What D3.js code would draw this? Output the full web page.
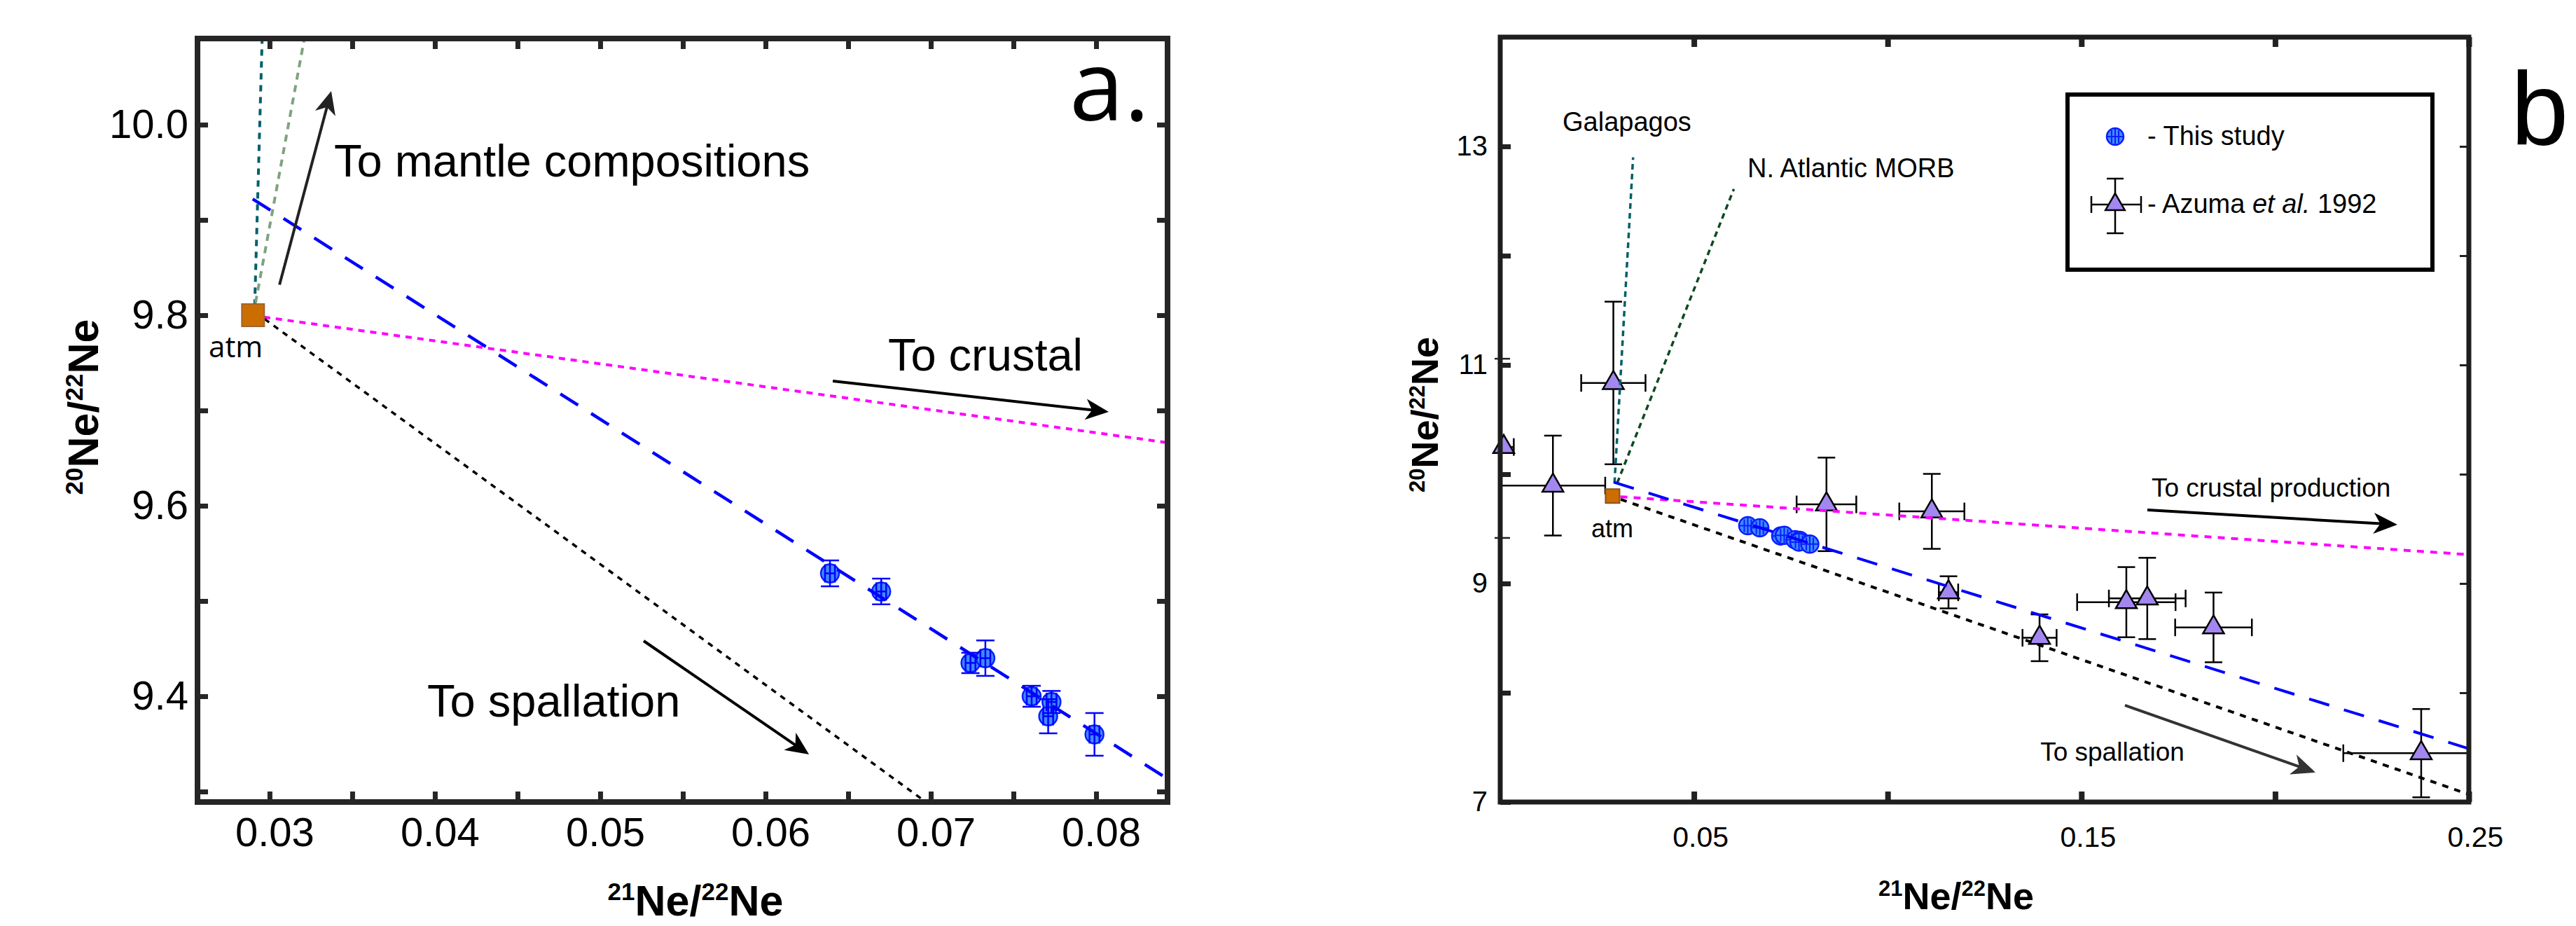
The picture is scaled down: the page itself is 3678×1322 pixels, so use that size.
<!DOCTYPE html>
<html>
<head>
<meta charset="utf-8">
<script src="https://cdn.jsdelivr.net/npm/d3@7/dist/d3.min.js"></script>
<style>
  body { margin: 0; background: #fff; }
  text { font-family: "Liberation Sans", Arial, sans-serif; }
</style>
</head>
<body>
<script>
// this study (panel a and b)
var studyX = [0.0639, 0.0670, 0.0724, 0.0733, 0.0761, 0.0773, 0.0771, 0.0799];
var studyY = [9.529, 9.510, 9.435, 9.440, 9.400, 9.394, 9.379, 9.360];
var studyXErr = [0.0003, 0.0003, 0.0003, 0.0003, 0.0003, 0.0003, 0.0003, 0.0003];
var studyYErr = [0.0136, 0.0135, 0.0107, 0.0186, 0.0110, 0.0116, 0.0179, 0.0224];

// Azuma et al. 1992 (panel b)
var azumaX = [0.0009, 0.0136, 0.0292, 0.0842, 0.1114, 0.1157, 0.1392, 0.1616, 0.1670, 0.1841, 0.2377];
var azumaY = [10.249, 9.896, 10.835, 9.724, 9.660, 8.919, 8.503, 8.829, 8.863, 8.598, 7.447];
var azumaXErr = [0.0026, 0.0135, 0.0083, 0.0077, 0.0084, 0.0025, 0.0044, 0.0127, 0.0099, 0.0099, 0.0201];
var azumaYErr = [0, 0.457, 0.744, 0.428, 0.343, 0.147, 0.214, 0.321, 0.372, 0.319, 0.404];

// atmosphere
var atm = [0.029, 9.80];

// mixing / trend lines, [x1, y1, x2, y2]
var linesA = {
  galapagos: [0.0291, 9.81, 0.02955, 10.09],
  morb: [0.02915, 9.813, 0.0321, 10.09],
  crustal: [0.02966, 9.798, 0.0844, 9.666],
  spallation: [0.0297, 9.796, 0.0697, 9.289],
  fit: [0.02898, 9.922, 0.0844, 9.3125]
};
var linesB = {
  galapagos: [0.0295, 9.92, 0.0343, 12.90],
  morb: [0.0302, 9.92, 0.0603, 12.61],
  crustal: [0.0310, 9.794, 0.25, 9.264],
  spallation: [0.0311, 9.77, 0.25, 7.07],
  fit: [0.0293, 9.927, 0.25, 7.488]
};

// ticks
var aXTicks = [0.03, 0.035, 0.04, 0.045, 0.05, 0.055, 0.06, 0.065, 0.07, 0.075, 0.08];
var aXLabels = [0.03, 0.04, 0.05, 0.06, 0.07, 0.08];
var aYTicks = [9.3, 9.4, 9.5, 9.6, 9.7, 9.8, 9.9, 10.0];
var aYLabels = [9.4, 9.6, 9.8, 10.0];
var bXTicks = [0.05, 0.10, 0.15, 0.20, 0.25];
var bXLabels = [0.05, 0.15, 0.25];
var bYTicks = [8, 9, 10, 11, 12, 13];
var bYLabels = [7, 9, 11, 13];
var bYStray = [11.06, 9.42];

var width = 3678, height = 1322;

var svg = d3.select("body").append("svg")
    .attr("width", width)
    .attr("height", height);

svg.append("rect").attr("width", width).attr("height", height).attr("fill", "#fff");

var xA = d3.scaleLinear().domain([0.02564, 0.08432]).range([282, 1667]);
var yA = d3.scaleLinear().domain([9.289, 10.0904]).range([1145, 55]);
var xB = d3.scaleLinear().domain([0, 0.25]).range([2142, 3525]);
var yB = d3.scaleLinear().domain([7, 14]).range([1145, 53]);

var defs = svg.append("defs");
defs.append("clipPath").attr("id", "clipA").append("rect")
    .attr("x", 282).attr("y", 55).attr("width", 1385).attr("height", 1090);
defs.append("clipPath").attr("id", "clipB").append("rect")
    .attr("x", 2142).attr("y", 53).attr("width", 1383).attr("height", 1092);

var studyData = studyX.map(function (d, i) {
  return {x: d, y: studyY[i], ex: studyXErr[i], ey: studyYErr[i]};
});
var azumaData = azumaX.map(function (d, i) {
  return {x: d, y: azumaY[i], ex: azumaXErr[i], ey: azumaYErr[i]};
});

// draw a line with a stealth style arrow head
function arrow(g, x1, y1, x2, y2, color, len, hw) {
  var dx = x2 - x1, dy = y2 - y1, L = Math.sqrt(dx * dx + dy * dy);
  var ux = dx / L, uy = dy / L, nx = -uy, ny = ux;
  g.append("line")
    .attr("x1", x1).attr("y1", y1)
    .attr("x2", x2 - ux * len * 0.6).attr("y2", y2 - uy * len * 0.6)
    .attr("stroke", color).attr("stroke-width", 4);
  var pts = [
    [x2, y2],
    [x2 - ux * len + nx * hw, y2 - uy * len + ny * hw],
    [x2 - ux * len * 0.72, y2 - uy * len * 0.72],
    [x2 - ux * len - nx * hw, y2 - uy * len - ny * hw]
  ];
  g.append("path").attr("d", "M" + pts.join("L") + "Z").attr("fill", color);
}

function trendLine(g, sx, sy, c, color, w, dash) {
  g.append("line")
    .attr("x1", sx(c[0])).attr("y1", sy(c[1]))
    .attr("x2", sx(c[2])).attr("y2", sy(c[3]))
    .attr("stroke", color).attr("stroke-width", w)
    .attr("stroke-dasharray", dash);
}

function errorBars(g, data, sx, sy, color, w, cap) {
  data.forEach(function (d) {
    if (d.ey > 0) {
      g.append("line").attr("x1", sx(d.x)).attr("x2", sx(d.x))
        .attr("y1", sy(d.y - d.ey)).attr("y2", sy(d.y + d.ey));
      [d.y - d.ey, d.y + d.ey].forEach(function (v) {
        g.append("line").attr("x1", sx(d.x) - cap).attr("x2", sx(d.x) + cap)
          .attr("y1", sy(v)).attr("y2", sy(v));
      });
    }
    if (d.ex > 0) {
      g.append("line").attr("x1", sx(d.x - d.ex)).attr("x2", sx(d.x + d.ex))
        .attr("y1", sy(d.y)).attr("y2", sy(d.y));
      [d.x - d.ex, d.x + d.ex].forEach(function (v) {
        g.append("line").attr("x1", sx(v)).attr("x2", sx(v))
          .attr("y1", sy(d.y) - cap).attr("y2", sy(d.y) + cap);
      });
    }
  });
  g.selectAll("line").attr("stroke", color).attr("stroke-width", w);
}

function axisLabel(g, x, y, rotate, sup1, sup2, size, supSize, raise) {
  var t = g.append("text")
    .attr("transform", "translate(" + x + "," + y + ")" + (rotate ? " rotate(-90)" : ""))
    .attr("text-anchor", "middle")
    .attr("font-weight", "bold")
    .attr("font-size", size);
  t.append("tspan").attr("font-size", supSize).attr("dy", -raise).text(sup1);
  t.append("tspan").attr("dy", raise).text("Ne/");
  t.append("tspan").attr("font-size", supSize).attr("dy", -raise).text(sup2);
  t.append("tspan").attr("dy", raise).text("Ne");
}

function styleAxis(g, color, w) {
  g.select(".domain").remove();
  g.selectAll(".tick line").attr("stroke", color).attr("stroke-width", w);
  g.selectAll(".tick text").attr("fill", "#000").attr("font-family", "'Liberation Sans', Arial, sans-serif");
}

// ---------------- panel a ----------------
var pa = svg.append("g");

var paData = pa.append("g");
paData.selectAll("circle")
    .data(studyData)
    .enter().append("circle")
    .attr("cx", function (d) { return xA(d.x); })
    .attr("cy", function (d) { return yA(d.y); })
    .attr("r", 13)
    .attr("fill", "#3f8cff")
    .attr("stroke", "#0a1eff")
    .attr("stroke-width", 2.5);
errorBars(paData.append("g").attr("clip-path", "url(#clipA)"), studyData, xA, yA, "#0000ff", 2.5, 13);

var paLines = pa.append("g").attr("clip-path", "url(#clipA)");
trendLine(paLines, xA, yA, linesA.galapagos, "#00606b", 4, "9,8");
trendLine(paLines, xA, yA, linesA.morb, "#7ea37e", 4, "10,8");
trendLine(paLines, xA, yA, linesA.crustal, "#ff00ff", 4, "9,8");
trendLine(paLines, xA, yA, linesA.spallation, "#000", 3.5, "8,8");
trendLine(paLines, xA, yA, linesA.fit, "#0000ff", 4.5, "30,22");

pa.append("rect")
    .attr("x", xA(atm[0]) - 16).attr("y", yA(atm[1]) - 16)
    .attr("width", 32).attr("height", 32)
    .attr("fill", "#cc6d00").attr("stroke", "#a0652e").attr("stroke-width", 2);

arrow(pa, xA(0.0306), yA(9.832), xA(0.03373), yA(10.0353), "#222", 33, 15);
arrow(pa, xA(0.06407), yA(9.7309), xA(0.08076), yA(9.6985), "#000", 33, 15);
arrow(pa, xA(0.05263), yA(9.4581), xA(0.06263), yA(9.339), "#000", 33, 15);

pa.append("text").attr("x", xA(0.0339)).attr("y", yA(9.9456)).attr("font-size", 65).text("To mantle compositions");
pa.append("text").attr("x", xA(0.06741)).attr("y", yA(9.742)).attr("font-size", 65).text("To crustal");
pa.append("text").attr("x", xA(0.03954)).attr("y", yA(9.379)).attr("font-size", 65).text("To spallation");
pa.append("text").attr("x", xA(0.02632)).attr("y", yA(9.756))
    .attr("font-size", 42).style("font-family", "'Open Sans', 'DejaVu Sans', sans-serif").text("atm");

var fmt2 = d3.format(".2f"), fmt1 = d3.format(".1f");
function hasLabel(list, v) {
  return list.some(function (l) { return Math.abs(l - v) < 1e-9; });
}

var axAB = pa.append("g").attr("transform", "translate(0,1145)")
    .call(d3.axisBottom(xA).tickValues(aXTicks).tickSize(-15).tickPadding(22)
      .tickFormat(function (d) { return hasLabel(aXLabels, d) ? fmt2(d) : ""; }));
styleAxis(axAB, "#262626", 7);
axAB.selectAll(".tick text").attr("font-size", 58).attr("dx", 7);

var axAT = pa.append("g").attr("transform", "translate(0,55)")
    .call(d3.axisTop(xA).tickValues(aXTicks).tickSize(-15).tickFormat(""));
styleAxis(axAT, "#262626", 7);

var axAL = pa.append("g").attr("transform", "translate(282,0)")
    .call(d3.axisLeft(yA).tickValues(aYTicks).tickSize(-15).tickPadding(13)
      .tickFormat(function (d) { return hasLabel(aYLabels, d) ? fmt1(d) : ""; }));
styleAxis(axAL, "#262626", 7);
axAL.selectAll(".tick text").attr("font-size", 58);

var axAR = pa.append("g").attr("transform", "translate(1667,0)")
    .call(d3.axisRight(yA).tickValues(aYTicks).tickSize(-15).tickFormat(""));
styleAxis(axAR, "#262626", 7);

pa.append("rect").attr("x", 282).attr("y", 55).attr("width", 1385).attr("height", 1090)
    .attr("fill", "none").attr("stroke", "#262626").attr("stroke-width", 8);

axisLabel(pa, 993, 1307, false, "21", "22", 61, 35, 22);
axisLabel(pa, 140, 581, true, "20", "22", 61, 35, 22);

pa.append("text").attr("x", 1527).attr("y", 172)
    .attr("font-size", 140).style("font-family", "'Open Sans', 'Noto Sans', sans-serif").text("a.");

// ---------------- panel b ----------------
var pb = svg.append("g");

errorBars(pb.append("g").attr("clip-path", "url(#clipB)"), azumaData, xB, yB, "#000", 2.5, 12.5);

pb.append("g").selectAll("path")
    .data(azumaData)
    .enter().append("path")
    .attr("transform", function (d) { return "translate(" + xB(d.x) + "," + yB(d.y) + ")"; })
    .attr("d", d3.symbol().type(d3.symbolTriangle).size(390))
    .attr("fill", "#a387f0")
    .attr("stroke", "#000")
    .attr("stroke-width", 2.5);

var pbCirc = pb.append("g").selectAll("g")
    .data(studyData)
    .enter().append("g")
    .attr("transform", function (d) { return "translate(" + xB(d.x) + "," + yB(d.y) + ")"; });
pbCirc.append("circle").attr("r", 12.5)
    .attr("fill", "#3f8cff").attr("stroke", "#0a1eff").attr("stroke-width", 2.5);
pbCirc.append("path").attr("d", "M-12,0H12M0,-12V12M-5,-9V9M5,-9V9")
    .attr("stroke", "#0a1eff").attr("stroke-width", 2);

var pbLines = pb.append("g").attr("clip-path", "url(#clipB)");
trendLine(pbLines, xB, yB, linesB.galapagos, "#005f66", 3.5, "8,6");
trendLine(pbLines, xB, yB, linesB.morb, "#0c4a20", 3.5, "8,6");
trendLine(pbLines, xB, yB, linesB.crustal, "#ff00ff", 4, "10,9");
trendLine(pbLines, xB, yB, linesB.spallation, "#000", 4, "9,9");
trendLine(pbLines, xB, yB, linesB.fit, "#0000ff", 4, "30,22");

pb.append("rect")
    .attr("x", xB(atm[0]) - 10).attr("y", yB(atm[1]) - 10)
    .attr("width", 20).attr("height", 20)
    .attr("fill", "#cc6d00").attr("stroke", "#8a5020").attr("stroke-width", 2);

arrow(pb, xB(0.16703), yB(9.673), xB(0.23156), yB(9.538), "#000", 34, 15);
arrow(pb, xB(0.16124), yB(7.885), xB(0.21041), yB(7.271), "#333", 34, 15);

pb.append("text").attr("x", xB(0.0161)).attr("y", yB(13.141)).attr("font-size", 38).text("Galapagos");
pb.append("text").attr("x", xB(0.0638)).attr("y", yB(12.718)).attr("font-size", 38).text("N. Atlantic MORB");
pb.append("text").attr("x", xB(0.0235)).attr("y", yB(9.423)).attr("font-size", 36).text("atm");
pb.append("text").attr("x", xB(0.1681)).attr("y", yB(9.792)).attr("font-size", 37).text("To crustal production");
pb.append("text").attr("x", xB(0.1394)).attr("y", yB(7.378)).attr("font-size", 37).text("To spallation");

var axBB = pb.append("g").attr("transform", "translate(0,1145)")
    .call(d3.axisBottom(xB).tickValues(bXTicks).tickSize(-15).tickPadding(35)
      .tickFormat(function (d) { return hasLabel(bXLabels, d) ? fmt2(d) : ""; }));
styleAxis(axBB, "#222", 8);
axBB.selectAll(".tick text").attr("font-size", 41).attr("dx", 9);

var axBT = pb.append("g").attr("transform", "translate(0,53)")
    .call(d3.axisTop(xB).tickValues(bXTicks).tickSize(-14).tickFormat(""));
styleAxis(axBT, "#222", 8);

var axBL = pb.append("g").attr("transform", "translate(2142,0)")
    .call(d3.axisLeft(yB).tickValues(bYTicks.concat([7])).tickSize(-15).tickPadding(18)
      .tickFormat(function (d) { return hasLabel(bYLabels, d) ? d : ""; }));
styleAxis(axBL, "#222", 7);
axBL.selectAll(".tick text").attr("font-size", 40);

var axBL2 = pb.append("g").attr("transform", "translate(2142,0)")
    .call(d3.axisLeft(yB).tickValues(bYStray).tickSizeInner(-14).tickSizeOuter(0).tickFormat(""));
styleAxis(axBL2, "#222", 2.5);
axBL2.selectAll(".tick line").attr("x1", -8);

var axBR = pb.append("g").attr("transform", "translate(3525,0)")
    .call(d3.axisRight(yB).tickValues(bYTicks).tickSize(-13).tickFormat(""));
styleAxis(axBR, "#222", 3);

pb.append("rect").attr("x", 2142).attr("y", 53).attr("width", 1383).attr("height", 1092)
    .attr("fill", "none").attr("stroke", "#1e1e1e").attr("stroke-width", 7);

axisLabel(pb, 2793, 1298, false, "21", "22", 54, 31, 19);
axisLabel(pb, 2053, 592, true, "20", "22", 54, 31, 19);

// legend
var lg = pb.append("g");
lg.append("rect").attr("x", 2952).attr("y", 135).attr("width", 521).attr("height", 250)
    .attr("fill", "#fff").attr("stroke", "#000").attr("stroke-width", 6);
lg.append("circle").attr("cx", 3020).attr("cy", 195).attr("r", 12)
    .attr("fill", "#3f8cff").attr("stroke", "#0a1eff").attr("stroke-width", 2.5);
lg.append("path").attr("transform", "translate(3020,195)")
    .attr("d", "M-12,0H12M0,-12V12M-5,-9V9M5,-9V9")
    .attr("stroke", "#0a1eff").attr("stroke-width", 2);
lg.append("text").attr("x", 3066).attr("y", 207).attr("font-size", 38).text("- This study");
lg.append("path")
    .attr("d", "M3020,255V333M3008,255H3032M3008,333H3032M2986,292H3057M2986,280V304M3057,280V304")
    .attr("stroke", "#000").attr("stroke-width", 2.5).attr("fill", "none");
lg.append("path").attr("transform", "translate(3020,292)")
    .attr("d", d3.symbol().type(d3.symbolTriangle).size(330))
    .attr("fill", "#a387f0").attr("stroke", "#000").attr("stroke-width", 2.5);
var lt = lg.append("text").attr("x", 3066).attr("y", 304).attr("font-size", 38);
lt.append("tspan").text("- Azuma ");
lt.append("tspan").attr("font-style", "italic").text("et al.");
lt.append("tspan").text(" 1992");

pb.append("text").attr("x", 3585).attr("y", 207).attr("font-size", 148).text("b.");
</script>
</body>
</html>
